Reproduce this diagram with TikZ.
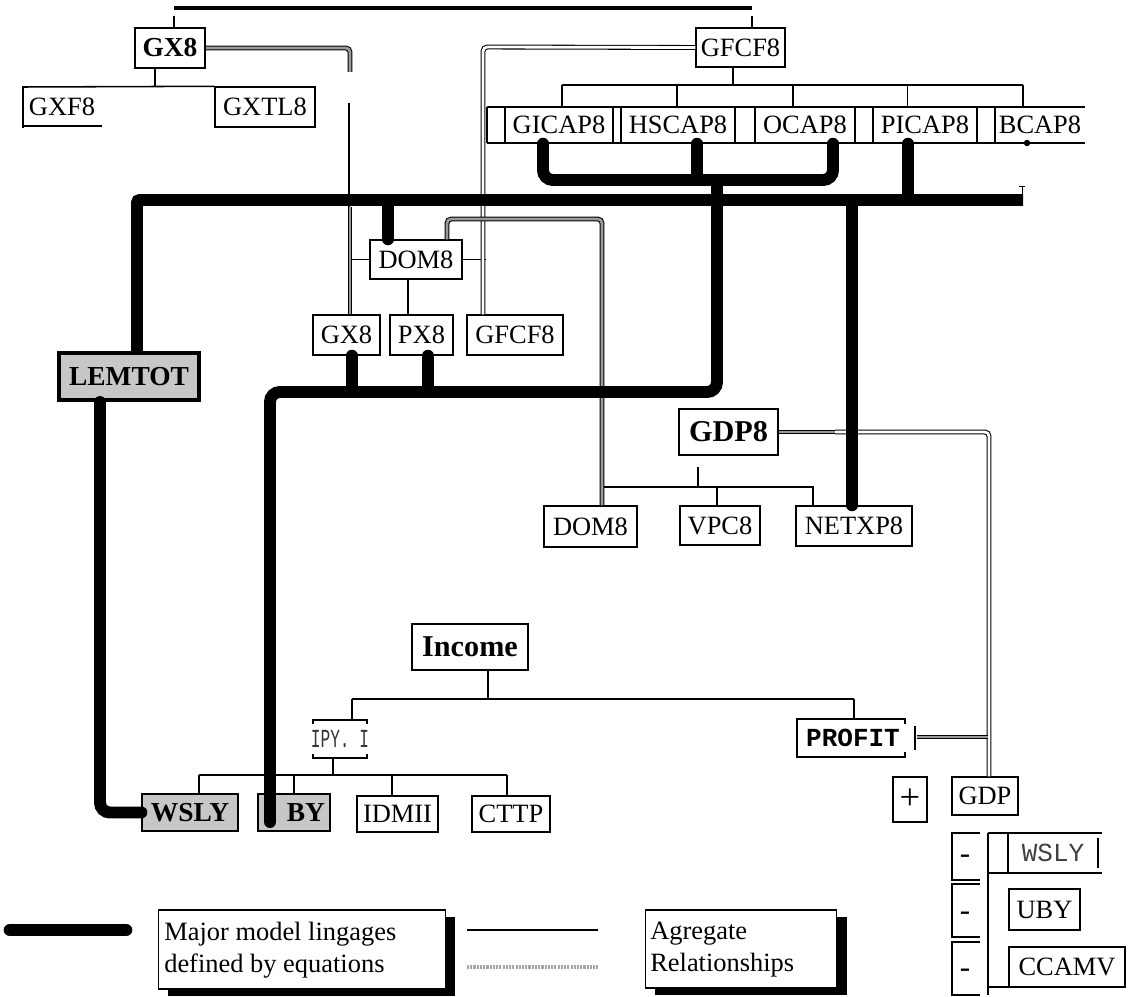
\documentclass[tikz,border=0pt]{standalone}
\usepackage{fontspec}
\setmainfont{Liberation Serif}
\setmonofont{Liberation Mono}
\usetikzlibrary{shadows}
\newcommand{\lbl}{\fontsize{18.8}{22.7}\selectfont}
\newcommand{\lblb}{\fontsize{19.5}{23}\selectfont\bfseries}
\newcommand{\lblbig}{\fontsize{21.5}{26}\selectfont\bfseries}
\newcommand{\lblmono}{\fontsize{18.5}{22}\selectfont\ttfamily}
\begin{document}
\begin{tikzpicture}[x=0.025cm, y=-0.025cm,
  box/.style={draw, line width=1.1pt, inner sep=0pt, font=\lbl},
  bx/.style 2 args={minimum width=#1*0.70866pt, minimum height=#2*0.70866pt},
  shbox/.style={box, fill=black!22, font=\lblb},
  txt/.style={inner sep=0pt, font=\lbl},
  conn/.style={line width=1.1pt},
  hair/.style={line width=0.6pt},
  major/.style={line width=8.5pt, rounded corners=7pt, line cap=round},
  aggw/.style={line width=0.75pt, double=white, double distance=2pt, rounded corners=3pt},
  aggh/.style={line width=0.75pt, double=black!40, double distance=2pt, rounded corners=3pt},
  legbox/.style={box, fill=white, drop shadow={shadow xshift=7pt, shadow yshift=-5pt, fill=black, opacity=1}},
]
\useasboundingbox (0,0) rectangle (1131,997);

% ---------- nodes ----------
\node[box, line width=1.8pt, font=\lblb, bx={70}{40}] (gxU) at (170,48) {GX8};
\node[box, bx={89}{39}] (gfcfU) at (740.5,47.5) {GFCF8};
\node[txt] (gxf) at (62,107) {GXF8};
\node[box, bx={100}{40}] (gxtl) at (265,107) {GXTL8};

\node[box, bx={108}{36}] (gicap) at (559,125) {GICAP8};
\node[box, bx={114}{36}] (hscap) at (678,125) {HSCAP8};
\node[box, bx={100}{36}] (ocap) at (805,125) {OCAP8};
\node[box, bx={104}{36}] (picap) at (925,125) {PICAP8};
\node[txt] (bcap) at (1040,125) {BCAP8};

\node[box, bx={92}{39}] (domU) at (416,259.5) {DOM8};
\node[box, bx={67}{40}] (gxL) at (346.5,335) {GX8};
\node[box, bx={63}{40}] (pxL) at (421.5,335) {PX8};
\node[box, bx={96}{40}] (gfcfL) at (515,335) {GFCF8};

\node[shbox, line width=3pt, bx={140}{47}] (lemtot) at (129,376.5) {LEMTOT};

\node[box, font=\lblbig, bx={99}{46}] (gdp8) at (728.5,432) {GDP8};
\node[box, bx={93}{41}] (domL) at (590.5,526.5) {DOM8};
\node[box, bx={80}{39}] (vpc) at (720,525.5) {VPC8};
\node[box, bx={116}{40}] (netxp) at (854,526) {NETXP8};

\node[box, font=\lblbig, bx={116}{46}] (income) at (470,647) {Income};
\node[txt, font=\lblmono, text=black!80] (ipy) at (340,739) {\scalebox{0.62}[1]{IPY. I}};
\node[txt, font=\lblmono\bfseries] (profit) at (853,738) {PROFIT};

\node[shbox, bx={96}{37}] (wsly) at (190,812.5) {WSLY};
\node[shbox, bx={72}{37}] (uby) at (294,812.5) {};
\node[txt, font=\lblb] (ubyt) at (306,813) {BY};
\node[box, bx={81}{36}] (idmii) at (397.5,814) {IDMII};
\node[box, bx={78}{36}] (cttp) at (511,814) {CTTP};

\node[box, bx={34}{45}, font=\fontsize{26}{30}\selectfont] (plus) at (910,799.5) {+};
\node[box, bx={66}{38}] (gdp) at (985,796) {GDP};
\node[txt, font=\fontsize{22}{26}\selectfont] (m1) at (965,859) {-};
\node[txt, font=\fontsize{22}{26}\selectfont] (m2) at (965,916) {-};
\node[txt, font=\fontsize{22}{26}\selectfont] (m3) at (965,973) {-};
\node[txt, font=\lblmono, text=black!75] (wslyr) at (1053,853) {WSLY};
\node[box, bx={71}{41}] (ubyr) at (1044.5,909.5) {UBY};
\node[box, bx={116}{40}] (ccamv) at (1067,967) {CCAMV};

% ---------- thin tree connectors ----------
\coordinate (topL) at (174,8);
\coordinate (topR) at (752,8);
\draw[line width=2.2pt] (topL) -- (topR);
\draw[conn] (gxU.north -| topL) -- ++(0,-11);
\draw[conn] (gfcfU.north -| topR) -- ++(0,-11);

\coordinate (gxbus) at (155,87);
\draw[conn] (gxU.south -| gxbus) -- (gxbus);
\draw[conn] (23,128) -- (23,87) -- (gxtl.north west);
\draw[conn] (23,126) -- (102,126);

\coordinate (capbus) at (733,85);
\draw[conn] (gfcfU.south -| capbus) -- (capbus);
\draw[conn] (562,85) -- (1023,85);
\foreach \x in {562,677,793,1023} \draw[conn] (\x,85) -- (\x,107);
\draw[hair] (907,85) -- (907,107);
\draw[conn] (487,107) -- (1085,107);
\draw[conn] (487,143) -- (1085,143);
\draw[conn] (487,107) -- (487,143);
\draw[conn] (995,107) -- (995,143);
\fill (1027,143) circle (2.3pt);

\draw[conn] (domU.west) -- ++(-20,0);
\draw[conn] (domU.east) -- ++(23,0);
\draw[conn] (domU.south -| 408,0) -- (pxL.north -| 408,0);

\draw[conn] (698,467) -- (698,487);
\draw[conn] (602,487) -- (813,487) -- (netxp.north -| 813,0);
\draw[conn] (717,487) -- (vpc.north -| 717,0);

\draw[conn] (income.south -| 488,0) -- (488,699);
\draw[conn] (352,699) -- (854,699);
\draw[conn] (352,699) -- (352,720);
\draw[conn] (854,699) -- (854,719);
\draw[conn] (313,724) -- (313,720) -- (367,720) -- (367,724);
\draw[conn] (313,754) -- (313,758) -- (367,758) -- (367,754);
\draw[conn] (905,724) -- (905,719) -- (797,719) -- (797,757) -- (905,757) -- (905,752);
\draw[conn] (915,726) -- (915,750);
\draw[conn] (333,758) -- (333,775);
\draw[conn] (199,775) -- (507,775);
\draw[conn] (199,775) -- (wsly.north -| 199,0);
\draw[conn] (294,775) -- (uby.north -| 294,0);
\draw[conn] (392,775) -- (idmii.north -| 392,0);
\draw[conn] (507,775) -- (cttp.north -| 507,0);

\draw[conn] (980,833) -- (952,833) -- (952,880) -- (980,880);
\draw[conn] (980,884) -- (952,884) -- (952,937) -- (980,937);
\draw[conn] (980,942) -- (952,942) -- (952,995) -- (980,995);
\draw[conn] (988,833) -- (1102,833);
\draw[conn] (988,873) -- (1102,873);
\draw[conn] (1008,833) -- (1008,873);
\draw[conn] (1098,838) -- (1098,868);
\draw[conn] (988,833) -- (988,995);
\draw[conn] (988,987) -- (1125,987);

% ---------- aggregate relationships ----------
\draw[aggh] (gxU.east) -- (350,48) -- (350,72);
\draw[conn] (349,103) -- (349,207);
\draw[aggh] (350,207) -- (gxL.north -| 350,0);
\draw[aggw] (gfcfU.west) -- (483,47) -- (gfcfL.north -| 483,0);
\draw[aggh] (domU.north -| 447,0) -- (447,219) -- (602,219) -- (domL.north -| 602,0);
\draw[aggh] (gdp8.east) -- (835,432);
\draw[aggw] (835,432) -- (989,432) -- (gdp.north -| 989,0);
\draw[aggh] (917,737) -- (988,737);

% ---------- major linkages ----------
\draw[major, line cap=butt, rounded corners=2pt] (lemtot.north -| 137,0) -- (137,200) -- (1023,200);
\draw[hair] (1022,186) -- (1022,206);
\draw[hair] (1019,186) -- (1025,186);
\draw[major] (gicap.south -| 543,0) -- (543,180) -- (833,180) -- (ocap.south -| 833,0);
\draw[major] (hscap.south -| 697,0) -- (697,180);
\draw[major] (picap.south -| 908,0) -- (908,195);
\draw[major] (388,200) -- (domU.north -| 388,0);
\draw[major] (852,200) -- (netxp.north -| 852,0);
\draw[major] (717,180) -- (717,392) -- (270,392) -- (270,822);
\draw[major] (gxL.south -| 352,0) -- (352,392);
\draw[major] (pxL.south -| 428,0) -- (428,392);
\draw[major] (lemtot.south -| 100,0) -- (wsly.west -| 100,0) -- (wsly.west);

% ---------- legend ----------
\coordinate (lg1) at (10,930);
\coordinate (lg2) at (126,930);
\draw[line width=9pt, line cap=round] (lg1) -- (lg2);
\node[legbox, bx={288}{79}] (leg1) at (302,949.5) {};
\node[txt, anchor=west, align=left] (leg1t) at (164,950) {Major model lingages\\defined by equations};
\coordinate (la1) at (467,930);
\coordinate (la2) at (598,930);
\coordinate (lb1) at (467,967);
\coordinate (lb2) at (598,967);
\draw[line width=1.3pt] (la1) -- (la2);
\draw[line width=2.2pt, black!35, dash pattern=on 1.5pt off 0.8pt] (lb1) -- (lb2);
\node[legbox, bx={192}{78}] (leg2) at (741,949) {};
\node[txt, anchor=west, align=left] (leg2t) at (650,950) {Agregate\\Relationships};
\end{tikzpicture}
\end{document}
